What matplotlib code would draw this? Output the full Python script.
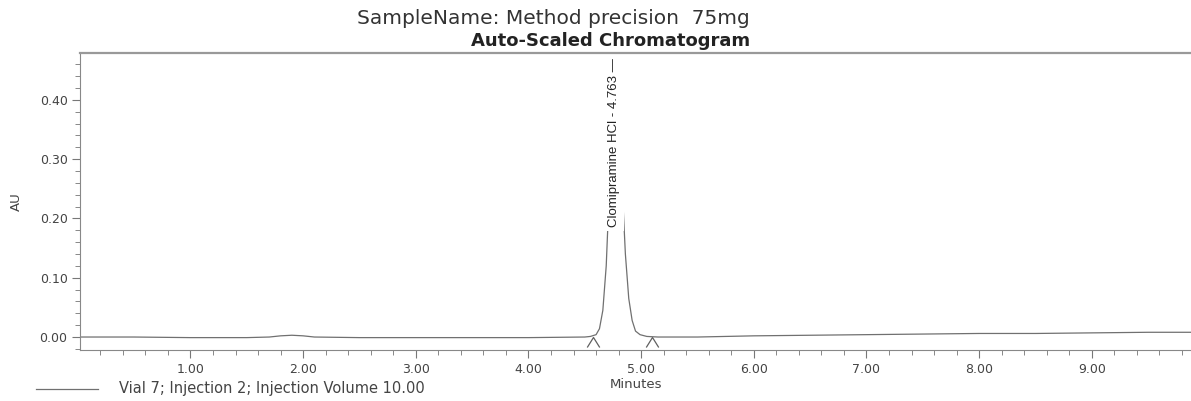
import matplotlib.pyplot as plt
import numpy as np
from matplotlib.path import Path
from matplotlib.ticker import MultipleLocator, FormatStrFormatter

# chromatogram trace (minutes, AU)
t = [0.00, 0.50, 1.00, 1.50, 1.70, 1.80, 1.90, 2.00, 2.10, 2.50, 3.00, 3.50, 4.00,
     4.50, 4.55, 4.60, 4.63, 4.66, 4.69, 4.72, 4.74, 4.76, 4.765, 4.78, 4.80,
     4.83, 4.86, 4.89, 4.92, 4.95, 4.99, 5.05, 5.15, 5.50, 6.00, 6.50, 7.00,
     7.50, 8.00, 8.50, 9.00, 9.50, 9.88]
au = [0.000, 0.000, -0.001, -0.001, 0.000, 0.002, 0.003, 0.002, 0.000, -0.001, -0.001, -0.001, -0.001,
      0.000, 0.001, 0.004, 0.014, 0.045, 0.120, 0.260, 0.360, 0.445, 0.455, 0.440, 0.380,
      0.260, 0.140, 0.065, 0.028, 0.010, 0.004, 0.001, 0.000, 0.000, 0.002, 0.003, 0.004,
      0.005, 0.006, 0.006, 0.007, 0.008, 0.008]

peak_rt = 4.763
peak_name = 'Clomipramine HCl'
peak_top = 0.185
int_marks = [4.57, 5.10]
int_level = [-0.008, -0.008]

xticks = [1, 2, 3, 4, 5, 6, 7, 8, 9]
yticks = [0.0, 0.1, 0.2, 0.3, 0.4]

plt.rcParams['font.family'] = ['DejaVu Sans']

fig = plt.figure(figsize=(11.91, 4.01), dpi=100)
ax = fig.add_axes([0.0672, 0.127, 0.9328, 0.741])

ax.plot(t, au, color='#707070', lw=0.9)

# integration start/stop carets
caret = Path([(-1, -0.8), (0, 0.8), (1, -0.8)], [Path.MOVETO, Path.LINETO, Path.LINETO])
ax.plot(int_marks, int_level, ls='none', marker=caret, ms=9, mfc='none', mec='#606060', mew=0.9)

# peak label sits on top of the peak and hides its apex
ax.text(peak_rt, peak_top, peak_name + ' - ' + str(peak_rt) + ' \u2014', rotation=90,
        ha='center', va='bottom', fontsize=9.5, color='#222222',
        family=['Liberation Sans Narrow', 'Liberation Sans', 'DejaVu Sans'],
        bbox=dict(facecolor='white', edgecolor='none', pad=2.5))

ax.set_xlim(0.02, 9.88)
ax.set_ylim(-0.022, 0.479)
ax.set_xticks(xticks)
ax.set_yticks(yticks)
ax.xaxis.set_minor_locator(MultipleLocator(0.2))
ax.yaxis.set_minor_locator(MultipleLocator(0.02))
ax.xaxis.set_major_formatter(FormatStrFormatter('%.2f'))
ax.yaxis.set_major_formatter(FormatStrFormatter('%.2f'))
ax.tick_params(which='major', length=6, width=0.8, color='#777777', labelsize=9, labelcolor='#444444')
ax.tick_params(which='minor', length=3.5, width=0.7, color='#888888')
ax.tick_params(axis='x', pad=3)
ax.tick_params(axis='y', pad=3)

ax.spines['right'].set_visible(False)
ax.spines['left'].set_color('#888888')
ax.spines['bottom'].set_color('#888888')
ax.spines['top'].set_color('#999999')
ax.spines['top'].set_linewidth(1.6)

ax.set_xlabel('Minutes', fontsize=9.5, color='#444444', labelpad=2)
ax.set_ylabel('AU', fontsize=9.5, color='#444444', labelpad=12)

fig.text(0.465, 0.955, 'SampleName: Method precision  75mg', ha='center', va='center',
         fontsize=14.5, color='#333333')
fig.text(0.513, 0.898, 'Auto-Scaled Chromatogram', ha='center', va='center',
         fontsize=13, fontweight='bold', color='#222222')

# legend line under the plot
fig.add_artist(plt.Line2D([0.030, 0.082], [0.030, 0.030], color='#707070', lw=0.9))
fig.text(0.100, 0.030, 'Vial 7; Injection 2; Injection Volume 10.00', ha='left', va='center',
         fontsize=10.5, color='#444444')

fig.savefig('out.png', dpi=100)
